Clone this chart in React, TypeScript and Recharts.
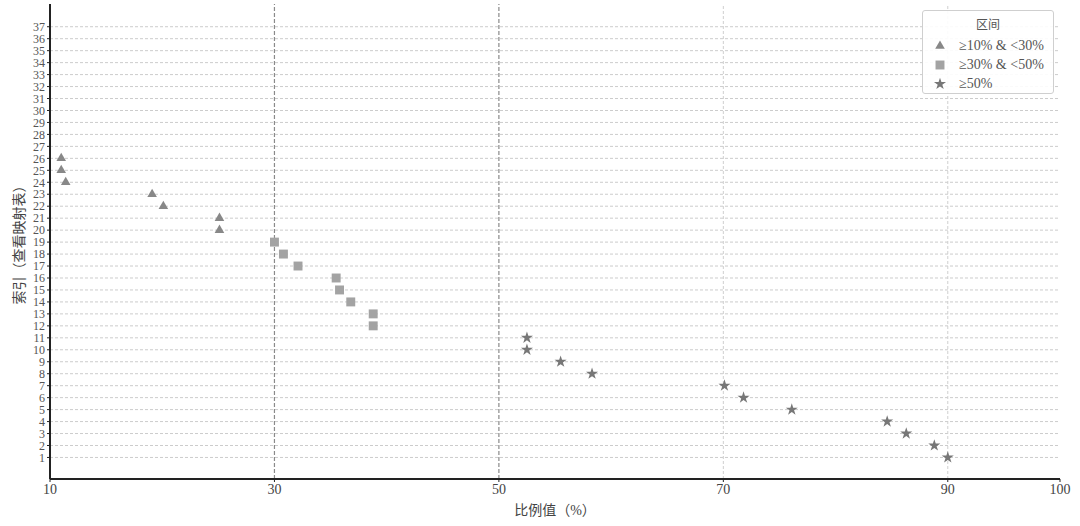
import React from 'react';
import { ScatterChart, Scatter, XAxis, YAxis, CartesianGrid, ReferenceLine, Symbols } from 'recharts';

const lowIndex = [26, 25, 24, 23, 22, 21, 20];
const lowValue = [11.0, 11.0, 11.4, 19.1, 20.1, 25.1, 25.1];

const midIndex = [19, 18, 17, 16, 15, 14, 13, 12];
const midValue = [30.0, 30.8, 32.1, 35.5, 35.8, 36.8, 38.8, 38.8];

const highIndex = [11, 10, 9, 8, 7, 6, 5, 4, 3, 2, 1];
const highValue = [52.5, 52.5, 55.5, 58.3, 70.1, 71.8, 76.1, 84.6, 86.3, 88.8, 90.0];

const xTicks = [10, 30, 50, 70, 90, 100];
const yTicks = Array.from({ length: 37 }, (_, i) => i + 1);

const SERIES = [
  { name: '≥10% & <30%', shape: 'triangle', color: '#888888', size: 40, idx: lowIndex, val: lowValue },
  { name: '≥30% & <50%', shape: 'square', color: '#a3a3a3', size: 80, idx: midIndex, val: midValue },
  { name: '≥50%', shape: 'star', color: '#777777', size: 45, idx: highIndex, val: highValue },
];

const FONT = '"Liberation Serif", "DejaVu Serif", "Noto Sans CJK SC", serif';

const LegendBox = () => (
  <div style={{ position: 'absolute', left: 922, top: 10, width: 132, height: 84, border: '1px solid #cfcfcf', borderRadius: 3, background: 'rgba(255,255,255,0.9)', fontFamily: FONT, color: '#555', fontSize: 14, boxSizing: 'border-box', paddingTop: 4 }}>
    <div style={{ textAlign: 'center', fontSize: 12, marginBottom: 3 }}>区间</div>
    {SERIES.map((s) => (
      <div key={s.name} style={{ display: 'flex', alignItems: 'center', height: 19 }}>
        <svg width={36} height={16}>
          <Symbols cx={17} cy={8} type={s.shape as any} size={s.size} fill={s.color} />
        </svg>
        <span>{s.name}</span>
      </div>
    ))}
  </div>
);

// rotated y-axis title, centred on the plot height
const YTitle = (props: any) => {
  const { y, height } = props.viewBox;
  const cy = y + height / 2;
  return (
    <text x={19} y={cy} transform={`rotate(-90, 19, ${cy})`} textAnchor="middle" dominantBaseline="central" fill="#444" fontFamily={FONT} fontSize={14}>
      索引（查看映射表）
    </text>
  );
};

export default function App() {
  return (
    <div style={{ position: 'absolute', left: 0, top: 0, width: 1080, height: 526, background: '#fff' }}>
      <ScatterChart width={1080} height={526} margin={{ top: 4, right: 20, bottom: 17, left: 0 }}>
        <CartesianGrid vertical={false} horizontalValues={yTicks} stroke="#cccccc" strokeDasharray="3 2" />
        <ReferenceLine x={30} stroke="#8a8a8a" strokeDasharray="4 2" strokeWidth={1.2} />
        <ReferenceLine x={50} stroke="#8a8a8a" strokeDasharray="4 2" strokeWidth={1.2} />
        <ReferenceLine x={70} stroke="#cfcfcf" strokeDasharray="3 2" />
        <ReferenceLine x={90} stroke="#cfcfcf" strokeDasharray="3 2" />
        <XAxis
          type="number"
          dataKey="x"
          domain={[10, 100]}
          ticks={xTicks}
          interval={0}
          height={30}
          axisLine={{ stroke: '#222', strokeWidth: 2 }}
          tickLine={{ stroke: '#222' }}
          tickSize={3}
          tick={{ fill: '#444', fontFamily: FONT, fontSize: 14 }}
          label={{ value: '比例值（%）', position: 'insideBottom', offset: -6, fill: '#444', fontFamily: FONT, fontSize: 14 }}
        />
        <YAxis
          type="number"
          dataKey="y"
          domain={[-0.8, 38.9]}
          ticks={yTicks}
          interval={0}
          width={50}
          axisLine={{ stroke: '#222', strokeWidth: 2 }}
          tickLine={{ stroke: '#222' }}
          tickSize={3}
          tick={{ fill: '#555', fontFamily: FONT, fontSize: 12 }}
          label={<YTitle />}
        />
        {SERIES.map((s) => (
          <Scatter
            key={s.name}
            name={s.name}
            data={s.val.map((v, i) => ({ x: v, y: s.idx[i] }))}
            fill={s.color}
            isAnimationActive={false}
            shape={(p: any) => <Symbols cx={p.cx} cy={p.cy} type={s.shape as any} size={s.size} fill={s.color} />}
          />
        ))}
      </ScatterChart>
      <LegendBox />
    </div>
  );
}
